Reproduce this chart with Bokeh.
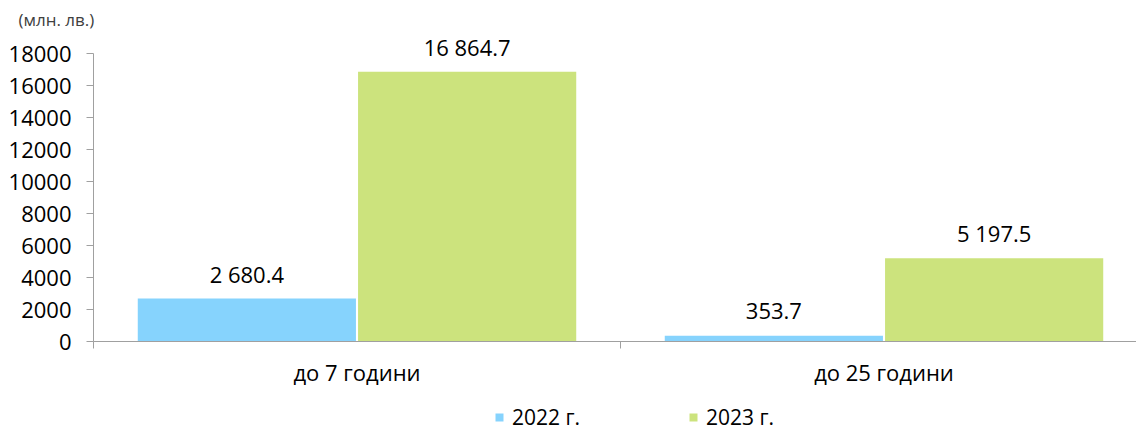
from bokeh.plotting import figure
from bokeh.layouts import column
from bokeh.models import ColumnDataSource, Range1d, FixedTicker, Legend, LegendItem, Title
from bokeh.core.properties import value
from bokeh.embed import file_html
from bokeh.resources import INLINE

categories = ["до 7 години", "до 25 години"]
v2022 = [2680.4, 353.7]
v2023 = [16864.7, 5197.5]
series_names = ["2022 г.", "2023 г."]
y_ticks = [0, 2000, 4000, 6000, 8000, 10000, 12000, 14000, 16000, 18000]
unit_label = "(млн. лв.)"

C_BLUE = "#86D3FD"
C_GREEN = "#CCE37D"
AX = "#A0A0A0"
FONT = "Open Sans"
FS = "22px"

centers = [i + 0.5 for i in range(len(categories))]
W = 0.414
OFF = 0.209
TOP_PX = 30  # frame top
Y_MAX = 18000 * (341 - TOP_PX) / 288
H1 = 391
H2 = 431 - H1

def fmt(v):
    return f"{v:,.1f}".replace(",", " ")

src22 = ColumnDataSource(dict(x=[c - OFF for c in centers], top=v2022, lab=[fmt(v) for v in v2022]))
src23 = ColumnDataSource(dict(x=[c + OFF for c in centers], top=v2023, lab=[fmt(v) for v in v2023]))

p = figure(width=1136, height=H1, output_backend="svg", toolbar_location=None,
           x_range=Range1d(0, (1136 - 93) / 527), y_range=Range1d(0, Y_MAX),
           min_border_left=93, min_border_right=0, min_border_top=TOP_PX,
           min_border_bottom=H1 - 341)
p.outline_line_color = None
p.xgrid.grid_line_color = None
p.ygrid.grid_line_color = None
p.background_fill_color = "white"
p.border_fill_color = "white"

p.add_layout(Title(text=unit_label, align="left", offset=-75, standoff=0,
                   text_font=FONT, text_font_size="17px", text_font_style="normal",
                   text_color="#404040"), "above")

p.vbar(x="x", top="top", width=W, source=src22, fill_color=C_BLUE, line_color=None)
p.vbar(x="x", top="top", width=W, source=src23, fill_color=C_GREEN, line_color=None)

for s in (src22, src23):
    p.text(x="x", y="top", text="lab", source=s, text_align="center", text_baseline="middle",
           y_offset=-25, text_font=value(FONT), text_font_size=FS, text_color="#000000")

# y axis
ya = p.yaxis[0]
ya.ticker = FixedTicker(ticks=y_ticks)
ya.bounds = (0, 18000)
ya.axis_line_color = AX
ya.major_tick_line_color = AX
ya.major_tick_out = 7
ya.major_tick_in = 0
ya.minor_tick_line_color = None
ya.major_label_standoff = 15
ya.major_label_text_font = FONT
ya.major_label_text_font_size = FS
ya.major_label_text_color = "#000000"

# x axis
xa = p.xaxis[0]
xa.ticker = FixedTicker(ticks=centers, minor_ticks=list(range(len(categories) + 1)))
xa.major_label_overrides = {c: n for c, n in zip(centers, categories)}
xa.axis_line_color = AX
xa.major_tick_line_color = None
xa.major_tick_out = 0
xa.major_tick_in = 0
xa.minor_tick_line_color = AX
xa.minor_tick_out = 7
xa.minor_tick_in = 0
xa.major_label_standoff = 8
xa.major_label_text_font = FONT
xa.major_label_text_font_size = FS
xa.major_label_text_color = "#000000"

# legend strip
p2 = figure(width=1136, height=H2, output_backend="svg", toolbar_location=None,
            x_range=Range1d(0, 1), y_range=Range1d(0, 1),
            x_axis_type=None, y_axis_type=None, min_border=0)
p2.outline_line_color = None
p2.xgrid.grid_line_color = None
p2.ygrid.grid_line_color = None
p2.border_fill_color = "white"
l1 = p2.vbar(x=[5], top=[0], width=0.1, fill_color=C_BLUE, line_color=None)
l2 = p2.vbar(x=[5], top=[0], width=0.1, fill_color=C_GREEN, line_color=None)
legend = Legend(items=[LegendItem(label=series_names[0], renderers=[l1]),
                       LegendItem(label=series_names[1], renderers=[l2])],
                orientation="horizontal", location=(401, 0),
                glyph_width=10, glyph_height=10, label_standoff=8, spacing=108,
                padding=0, margin=0, border_line_color=None, background_fill_alpha=0,
                label_text_font=FONT, label_text_font_size="21px", label_text_color="#000000")
p2.add_layout(legend, "center")

layout = column(p, p2, spacing=0)
open("out.html", "w").write(file_html(layout, INLINE))
